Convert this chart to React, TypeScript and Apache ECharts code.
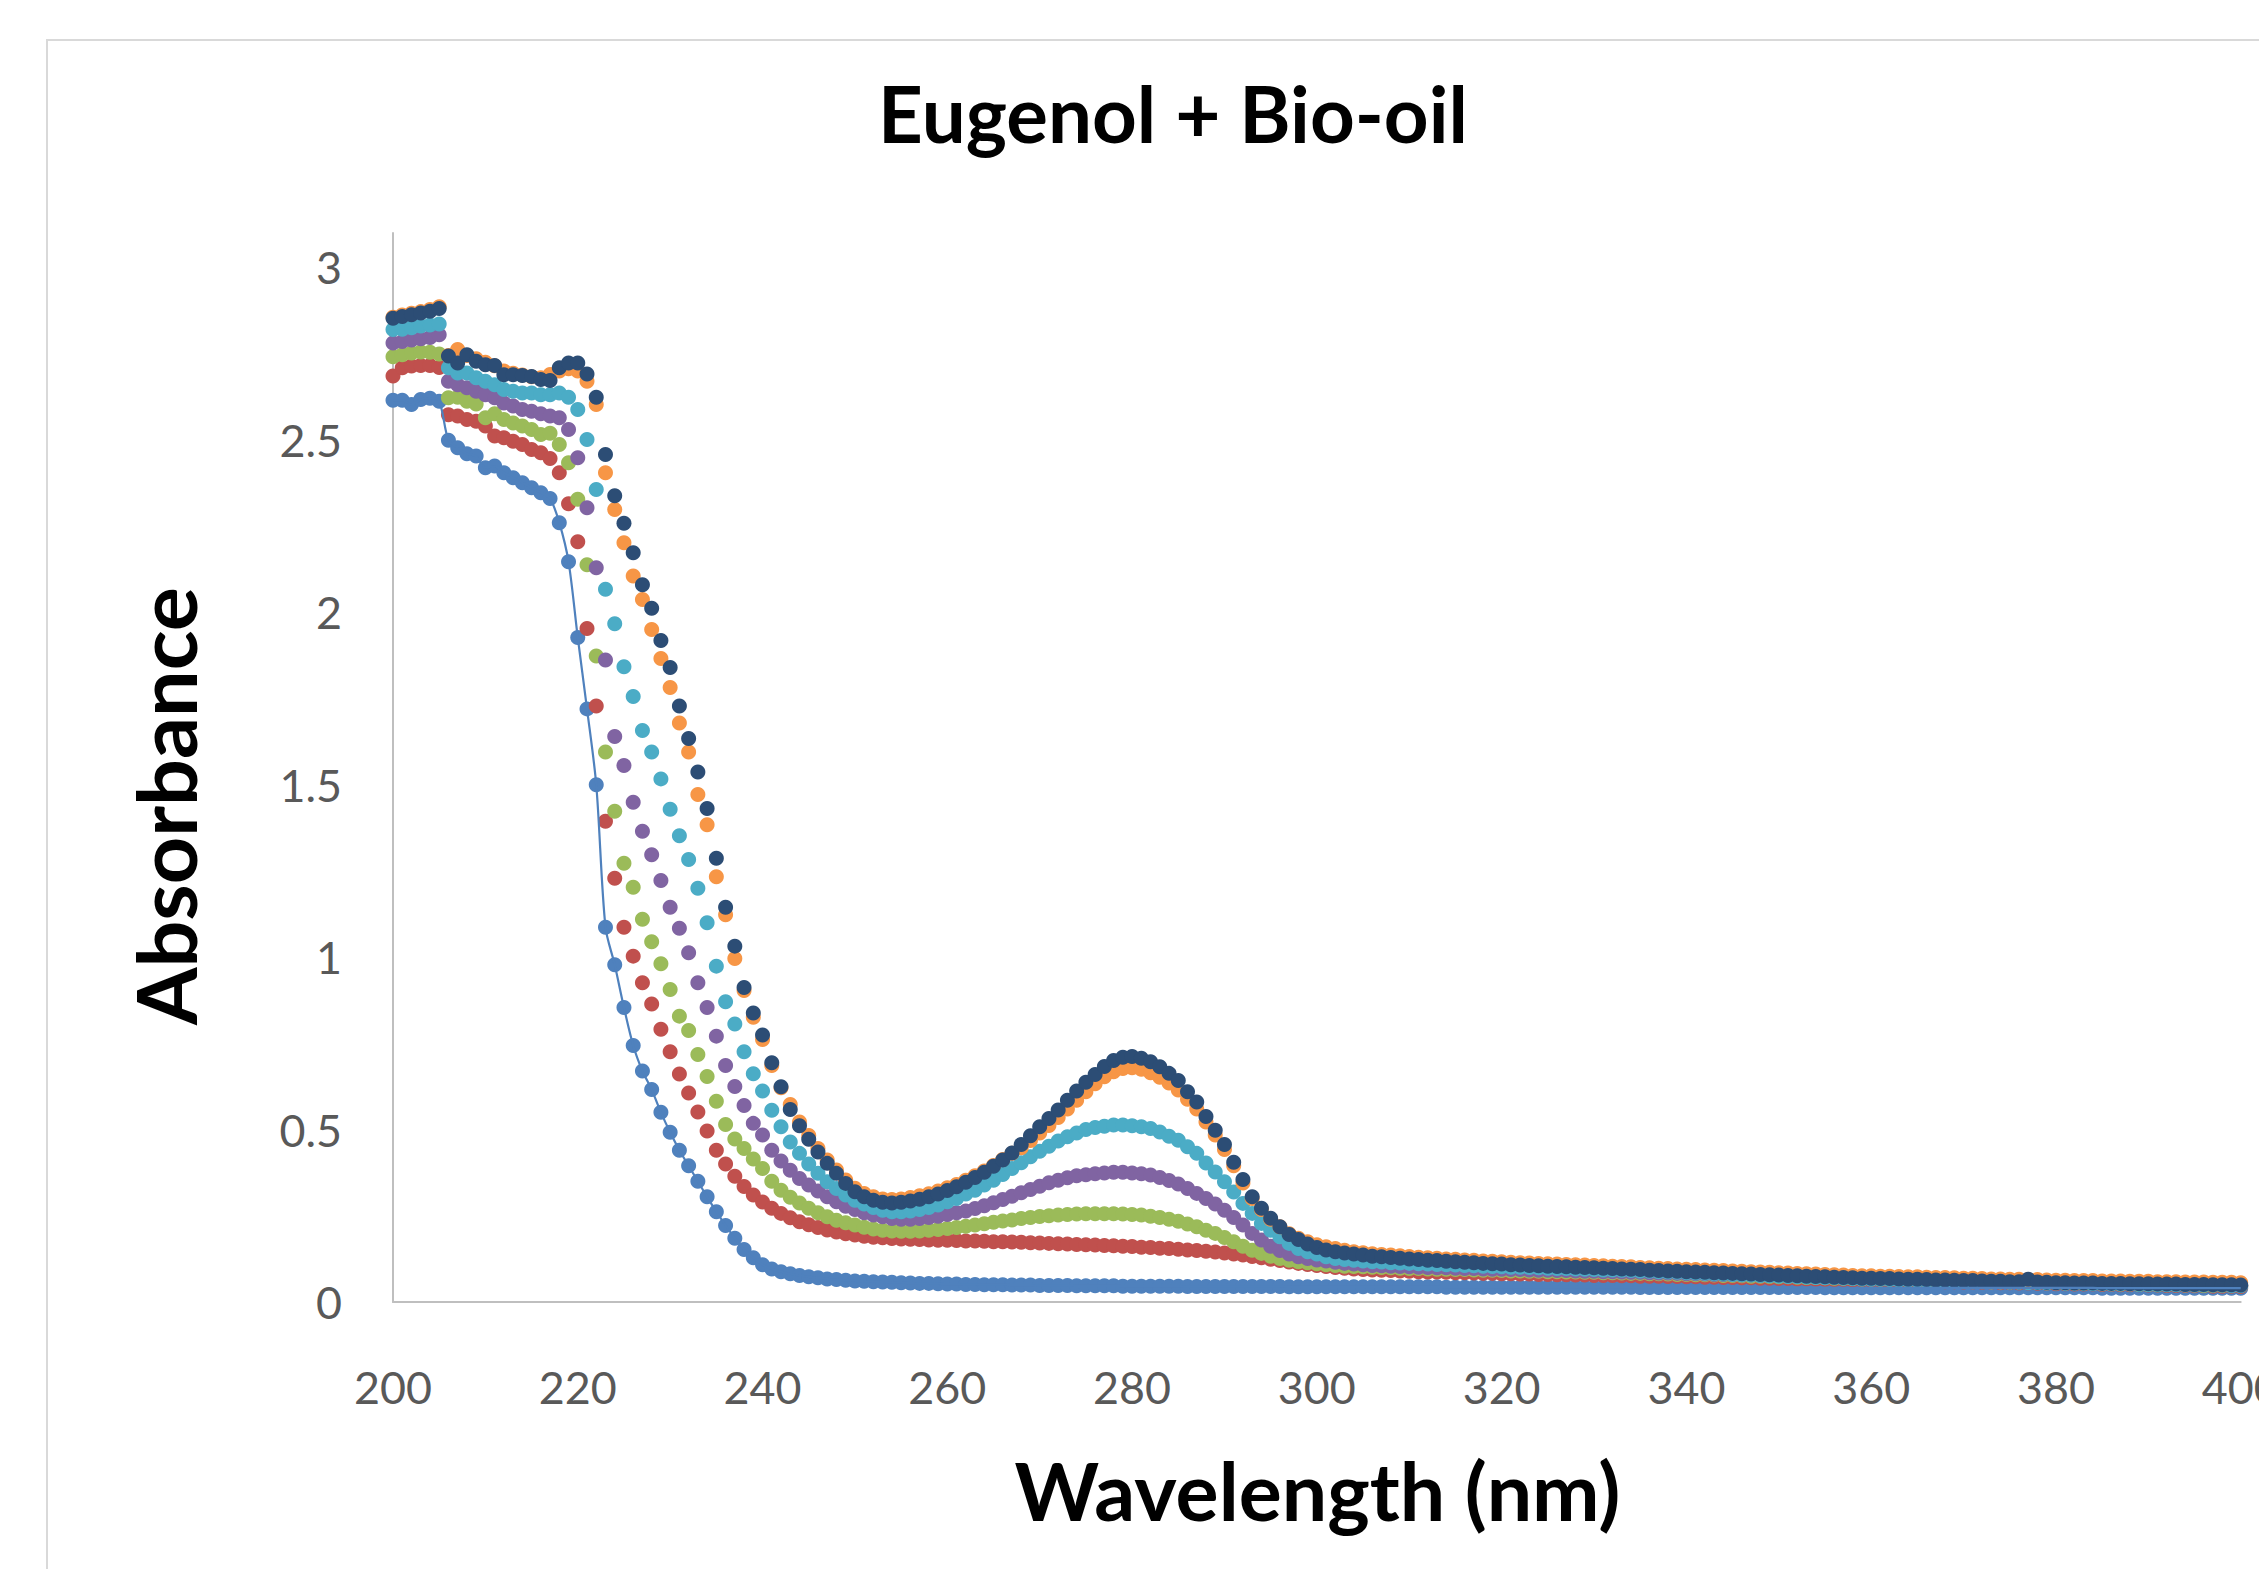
import React, { useEffect, useRef } from "react";
import * as echarts from "echarts";

// Wavelength axis: 200 .. 400 nm, one reading per nm
const WL_START = 200;
const WL_STEP = 1;

const X_TICKS = [200, 220, 240, 260, 280, 300, 320, 340, 360, 380, 400];
const Y_TICKS = [0, 0.5, 1, 1.5, 2, 2.5, 3];

const SERIES_NAMES = ["Series1", "Series2", "Series3", "Series4", "Series5", "Series6", "Series7"];

// Absorbance readings, 200 nm .. 400 nm (10 values per row)
const BLUE = [
  2.615, 2.615, 2.603, 2.617, 2.621, 2.612, 2.499, 2.477, 2.460, 2.453,
  2.419, 2.424, 2.405, 2.390, 2.376, 2.361, 2.347, 2.330, 2.260, 2.147,
  1.927, 1.720, 1.500, 1.087, 0.978, 0.854, 0.744, 0.670, 0.616, 0.550,
  0.492, 0.440, 0.395, 0.350, 0.305, 0.262, 0.222, 0.185, 0.152, 0.128,
  0.108, 0.096, 0.088, 0.082, 0.077, 0.073, 0.070, 0.067, 0.065, 0.063,
  0.061, 0.060, 0.059, 0.058, 0.057, 0.056, 0.055, 0.054, 0.054, 0.053,
  0.052, 0.052, 0.051, 0.051, 0.050, 0.050, 0.050, 0.049, 0.049, 0.049,
  0.048, 0.048, 0.048, 0.048, 0.047, 0.047, 0.047, 0.047, 0.047, 0.046,
  0.046, 0.046, 0.046, 0.046, 0.046, 0.046, 0.045, 0.045, 0.045, 0.045,
  0.045, 0.045, 0.045, 0.045, 0.045, 0.045, 0.045, 0.044, 0.044, 0.044,
  0.044, 0.044, 0.044, 0.044, 0.044, 0.044, 0.044, 0.044, 0.044, 0.044,
  0.044, 0.044, 0.044, 0.044, 0.043, 0.043, 0.043, 0.043, 0.043, 0.043,
  0.043, 0.043, 0.043, 0.043, 0.043, 0.043, 0.043, 0.043, 0.043, 0.043,
  0.043, 0.043, 0.043, 0.043, 0.043, 0.042, 0.042, 0.042, 0.042, 0.042,
  0.042, 0.042, 0.042, 0.042, 0.042, 0.042, 0.042, 0.042, 0.042, 0.042,
  0.042, 0.042, 0.042, 0.042, 0.042, 0.041, 0.041, 0.041, 0.041, 0.041,
  0.041, 0.041, 0.041, 0.041, 0.041, 0.041, 0.041, 0.041, 0.041, 0.041,
  0.041, 0.041, 0.041, 0.041, 0.041, 0.041, 0.041, 0.041, 0.041, 0.041,
  0.041, 0.041, 0.041, 0.041, 0.041, 0.040, 0.040, 0.040, 0.040, 0.040,
  0.040, 0.040, 0.040, 0.040, 0.040, 0.040, 0.040, 0.040, 0.040, 0.040,
  0.040,
];

const RED = [
  2.685, 2.709, 2.714, 2.716, 2.716, 2.710, 2.573, 2.569, 2.559, 2.554,
  2.540, 2.511, 2.506, 2.496, 2.487, 2.472, 2.463, 2.446, 2.405, 2.315,
  2.205, 1.953, 1.728, 1.394, 1.229, 1.087, 1.003, 0.926, 0.864, 0.791,
  0.726, 0.661, 0.606, 0.551, 0.496, 0.440, 0.400, 0.365, 0.335, 0.310,
  0.290, 0.272, 0.257, 0.244, 0.233, 0.224, 0.216, 0.209, 0.203, 0.198,
  0.194, 0.191, 0.188, 0.186, 0.184, 0.183, 0.182, 0.181, 0.180, 0.179,
  0.179, 0.178, 0.177, 0.177, 0.176, 0.175, 0.175, 0.174, 0.173, 0.172,
  0.171, 0.170, 0.169, 0.168, 0.167, 0.166, 0.165, 0.164, 0.163, 0.162,
  0.161, 0.159, 0.158, 0.156, 0.155, 0.153, 0.151, 0.149, 0.147, 0.145,
  0.142, 0.139, 0.136, 0.132, 0.128, 0.124, 0.120, 0.116, 0.112, 0.109,
  0.106, 0.103, 0.100, 0.098, 0.096, 0.094, 0.093, 0.092, 0.091, 0.090,
  0.089, 0.088, 0.087, 0.087, 0.086, 0.085, 0.085, 0.084, 0.083, 0.083,
  0.082, 0.082, 0.081, 0.081, 0.080, 0.080, 0.079, 0.079, 0.078, 0.078,
  0.077, 0.077, 0.077, 0.076, 0.076, 0.075, 0.075, 0.075, 0.074, 0.074,
  0.073, 0.073, 0.072, 0.072, 0.071, 0.071, 0.070, 0.070, 0.069, 0.069,
  0.068, 0.068, 0.067, 0.067, 0.066, 0.066, 0.065, 0.065, 0.064, 0.064,
  0.063, 0.063, 0.062, 0.062, 0.061, 0.061, 0.060, 0.060, 0.059, 0.059,
  0.058, 0.058, 0.057, 0.057, 0.056, 0.056, 0.055, 0.055, 0.054, 0.054,
  0.053, 0.053, 0.052, 0.052, 0.052, 0.051, 0.051, 0.050, 0.050, 0.050,
  0.049, 0.049, 0.048, 0.048, 0.048, 0.047, 0.047, 0.046, 0.046, 0.046,
  0.045,
];

const GREEN = [
  2.741, 2.747, 2.752, 2.755, 2.754, 2.749, 2.622, 2.624, 2.612, 2.604,
  2.564, 2.576, 2.559, 2.549, 2.540, 2.530, 2.516, 2.519, 2.487, 2.434,
  2.328, 2.138, 1.873, 1.595, 1.423, 1.272, 1.203, 1.110, 1.045, 0.981,
  0.906, 0.829, 0.787, 0.718, 0.654, 0.582, 0.515, 0.473, 0.445, 0.415,
  0.387, 0.350, 0.324, 0.304, 0.287, 0.272, 0.259, 0.247, 0.237, 0.230,
  0.223, 0.217, 0.212, 0.208, 0.206, 0.205, 0.205, 0.206, 0.208, 0.210,
  0.213, 0.216, 0.220, 0.223, 0.227, 0.231, 0.235, 0.238, 0.242, 0.245,
  0.248, 0.250, 0.252, 0.254, 0.255, 0.256, 0.256, 0.256, 0.256, 0.255,
  0.254, 0.252, 0.249, 0.245, 0.240, 0.234, 0.226, 0.218, 0.208, 0.199,
  0.187, 0.175, 0.162, 0.150, 0.141, 0.133, 0.126, 0.121, 0.117, 0.114,
  0.111, 0.108, 0.106, 0.104, 0.103, 0.102, 0.101, 0.100, 0.099, 0.098,
  0.097, 0.097, 0.096, 0.095, 0.095, 0.094, 0.094, 0.093, 0.092, 0.092,
  0.091, 0.090, 0.090, 0.089, 0.089, 0.088, 0.088, 0.087, 0.087, 0.086,
  0.086, 0.085, 0.085, 0.084, 0.083, 0.083, 0.082, 0.082, 0.081, 0.080,
  0.080, 0.079, 0.079, 0.078, 0.077, 0.077, 0.076, 0.075, 0.075, 0.074,
  0.073, 0.073, 0.072, 0.071, 0.071, 0.070, 0.069, 0.069, 0.068, 0.067,
  0.067, 0.066, 0.066, 0.065, 0.064, 0.064, 0.063, 0.063, 0.062, 0.061,
  0.061, 0.060, 0.060, 0.059, 0.059, 0.058, 0.058, 0.057, 0.057, 0.056,
  0.056, 0.055, 0.055, 0.054, 0.054, 0.053, 0.053, 0.052, 0.052, 0.051,
  0.051, 0.050, 0.050, 0.050, 0.049, 0.049, 0.048, 0.048, 0.048, 0.047,
  0.047,
];

const PURPLE = [
  2.781, 2.785, 2.790, 2.793, 2.797, 2.805, 2.670, 2.660, 2.651, 2.641,
  2.631, 2.622, 2.607, 2.598, 2.588, 2.583, 2.576, 2.569, 2.564, 2.530,
  2.448, 2.303, 2.129, 1.862, 1.640, 1.556, 1.449, 1.365, 1.297, 1.222,
  1.145, 1.084, 1.013, 0.926, 0.854, 0.771, 0.686, 0.625, 0.570, 0.518,
  0.484, 0.440, 0.409, 0.382, 0.358, 0.339, 0.322, 0.305, 0.291, 0.278,
  0.268, 0.259, 0.252, 0.247, 0.242, 0.240, 0.240, 0.242, 0.245, 0.249,
  0.254, 0.259, 0.264, 0.271, 0.279, 0.288, 0.297, 0.307, 0.317, 0.326,
  0.336, 0.346, 0.353, 0.360, 0.366, 0.369, 0.372, 0.374, 0.376, 0.376,
  0.374, 0.372, 0.368, 0.361, 0.352, 0.342, 0.329, 0.315, 0.300, 0.284,
  0.266, 0.245, 0.223, 0.199, 0.180, 0.162, 0.149, 0.139, 0.131, 0.126,
  0.122, 0.119, 0.115, 0.112, 0.110, 0.108, 0.106, 0.105, 0.104, 0.103,
  0.102, 0.101, 0.100, 0.099, 0.099, 0.098, 0.097, 0.097, 0.096, 0.095,
  0.095, 0.094, 0.094, 0.093, 0.092, 0.092, 0.091, 0.091, 0.090, 0.089,
  0.089, 0.088, 0.088, 0.087, 0.086, 0.086, 0.085, 0.084, 0.084, 0.083,
  0.082, 0.082, 0.081, 0.080, 0.080, 0.079, 0.078, 0.078, 0.077, 0.076,
  0.076, 0.075, 0.074, 0.074, 0.073, 0.072, 0.072, 0.071, 0.070, 0.070,
  0.069, 0.068, 0.068, 0.067, 0.066, 0.066, 0.065, 0.065, 0.064, 0.063,
  0.063, 0.062, 0.062, 0.061, 0.060, 0.060, 0.059, 0.059, 0.058, 0.058,
  0.057, 0.057, 0.056, 0.056, 0.055, 0.055, 0.054, 0.054, 0.053, 0.053,
  0.052, 0.052, 0.051, 0.051, 0.050, 0.050, 0.050, 0.049, 0.049, 0.048,
  0.048,
];

const CYAN = [
  2.820, 2.821, 2.825, 2.830, 2.833, 2.836, 2.709, 2.694, 2.694, 2.680,
  2.670, 2.660, 2.646, 2.641, 2.636, 2.636, 2.631, 2.631, 2.636, 2.624,
  2.588, 2.501, 2.356, 2.067, 1.967, 1.842, 1.756, 1.657, 1.595, 1.517,
  1.429, 1.352, 1.283, 1.200, 1.100, 0.974, 0.871, 0.806, 0.726, 0.662,
  0.612, 0.556, 0.508, 0.464, 0.431, 0.400, 0.373, 0.349, 0.329, 0.310,
  0.295, 0.284, 0.274, 0.266, 0.262, 0.262, 0.264, 0.268, 0.274, 0.281,
  0.291, 0.300, 0.313, 0.324, 0.339, 0.353, 0.370, 0.387, 0.404, 0.421,
  0.437, 0.452, 0.467, 0.479, 0.490, 0.500, 0.506, 0.510, 0.513, 0.513,
  0.511, 0.508, 0.503, 0.493, 0.481, 0.469, 0.450, 0.431, 0.403, 0.377,
  0.349, 0.319, 0.286, 0.257, 0.228, 0.208, 0.189, 0.170, 0.155, 0.146,
  0.139, 0.131, 0.126, 0.123, 0.121, 0.119, 0.117, 0.116, 0.114, 0.113,
  0.112, 0.111, 0.110, 0.109, 0.108, 0.107, 0.106, 0.105, 0.104, 0.103,
  0.102, 0.101, 0.101, 0.100, 0.099, 0.098, 0.097, 0.097, 0.096, 0.095,
  0.094, 0.093, 0.093, 0.092, 0.091, 0.090, 0.089, 0.088, 0.087, 0.086,
  0.085, 0.084, 0.083, 0.082, 0.081, 0.080, 0.079, 0.078, 0.077, 0.076,
  0.075, 0.074, 0.073, 0.072, 0.071, 0.070, 0.070, 0.069, 0.068, 0.067,
  0.066, 0.066, 0.065, 0.064, 0.064, 0.063, 0.062, 0.062, 0.061, 0.060,
  0.060, 0.059, 0.059, 0.058, 0.058, 0.057, 0.057, 0.056, 0.056, 0.055,
  0.055, 0.054, 0.054, 0.054, 0.053, 0.053, 0.052, 0.052, 0.052, 0.051,
  0.051, 0.051, 0.050, 0.050, 0.050, 0.049, 0.049, 0.049, 0.049, 0.048,
  0.048,
];

const ORANGE = [
  2.856, 2.862, 2.867, 2.872, 2.878, 2.886, 2.745, 2.762, 2.745, 2.735,
  2.725, 2.715, 2.700, 2.693, 2.688, 2.683, 2.680, 2.690, 2.700, 2.706,
  2.700, 2.670, 2.603, 2.405, 2.298, 2.202, 2.105, 2.037, 1.950, 1.866,
  1.782, 1.679, 1.595, 1.472, 1.384, 1.233, 1.123, 0.996, 0.903, 0.826,
  0.761, 0.686, 0.621, 0.573, 0.522, 0.483, 0.445, 0.412, 0.383, 0.354,
  0.330, 0.315, 0.305, 0.299, 0.297, 0.299, 0.303, 0.308, 0.314, 0.322,
  0.331, 0.341, 0.353, 0.366, 0.380, 0.396, 0.413, 0.431, 0.447, 0.468,
  0.490, 0.512, 0.535, 0.560, 0.585, 0.610, 0.633, 0.653, 0.668, 0.677,
  0.679, 0.675, 0.665, 0.652, 0.635, 0.615, 0.588, 0.560, 0.522, 0.484,
  0.442, 0.395, 0.345, 0.300, 0.268, 0.240, 0.218, 0.198, 0.185, 0.175,
  0.166, 0.160, 0.155, 0.150, 0.146, 0.143, 0.140, 0.138, 0.136, 0.134,
  0.132, 0.130, 0.128, 0.127, 0.125, 0.124, 0.122, 0.121, 0.119, 0.118,
  0.117, 0.115, 0.114, 0.113, 0.112, 0.111, 0.110, 0.109, 0.108, 0.107,
  0.106, 0.105, 0.104, 0.103, 0.102, 0.100, 0.099, 0.098, 0.097, 0.096,
  0.095, 0.094, 0.093, 0.092, 0.091, 0.090, 0.089, 0.088, 0.087, 0.086,
  0.085, 0.084, 0.083, 0.082, 0.081, 0.080, 0.079, 0.078, 0.077, 0.076,
  0.076, 0.075, 0.075, 0.074, 0.073, 0.073, 0.072, 0.071, 0.071, 0.070,
  0.069, 0.069, 0.068, 0.067, 0.067, 0.066, 0.066, 0.065, 0.065, 0.064,
  0.063, 0.063, 0.062, 0.062, 0.062, 0.061, 0.061, 0.061, 0.060, 0.060,
  0.060, 0.059, 0.059, 0.059, 0.058, 0.058, 0.058, 0.057, 0.057, 0.057,
  0.056,
];

const NAVY = [
  2.853, 2.858, 2.863, 2.868, 2.873, 2.881, 2.743, 2.723, 2.747, 2.728,
  2.718, 2.716, 2.689, 2.689, 2.687, 2.684, 2.675, 2.672, 2.709, 2.723,
  2.723, 2.691, 2.624, 2.458, 2.338, 2.258, 2.173, 2.080, 2.012, 1.918,
  1.840, 1.728, 1.634, 1.537, 1.431, 1.287, 1.145, 1.032, 0.912, 0.838,
  0.774, 0.694, 0.624, 0.558, 0.511, 0.472, 0.435, 0.402, 0.373, 0.344,
  0.320, 0.305, 0.295, 0.289, 0.287, 0.289, 0.293, 0.298, 0.305, 0.313,
  0.323, 0.334, 0.347, 0.361, 0.376, 0.394, 0.412, 0.432, 0.457, 0.482,
  0.508, 0.532, 0.557, 0.585, 0.612, 0.637, 0.660, 0.683, 0.700, 0.710,
  0.712, 0.707, 0.697, 0.682, 0.663, 0.642, 0.610, 0.580, 0.538, 0.498,
  0.457, 0.405, 0.355, 0.305, 0.272, 0.243, 0.218, 0.196, 0.181, 0.168,
  0.158, 0.151, 0.146, 0.142, 0.139, 0.136, 0.133, 0.131, 0.129, 0.127,
  0.125, 0.123, 0.121, 0.120, 0.118, 0.117, 0.115, 0.114, 0.112, 0.111,
  0.110, 0.108, 0.107, 0.106, 0.105, 0.104, 0.103, 0.102, 0.101, 0.100,
  0.099, 0.098, 0.097, 0.096, 0.095, 0.094, 0.092, 0.091, 0.090, 0.089,
  0.088, 0.087, 0.086, 0.085, 0.084, 0.083, 0.082, 0.081, 0.080, 0.079,
  0.078, 0.077, 0.076, 0.075, 0.074, 0.073, 0.072, 0.071, 0.070, 0.069,
  0.069, 0.068, 0.068, 0.067, 0.066, 0.066, 0.065, 0.064, 0.064, 0.063,
  0.062, 0.062, 0.061, 0.060, 0.060, 0.059, 0.059, 0.066, 0.058, 0.057,
  0.056, 0.056, 0.055, 0.055, 0.055, 0.054, 0.054, 0.054, 0.053, 0.053,
  0.053, 0.052, 0.052, 0.052, 0.051, 0.051, 0.051, 0.050, 0.050, 0.050,
  0.049,
];

const SERIES_VALUES = [BLUE, RED, GREEN, PURPLE, CYAN, ORANGE, NAVY];
const COLORS = ["#4F81BD", "#C0504D", "#9BBB59", "#8064A2", "#4BACC6", "#F79646", "#2C4D75"];

const WAVELENGTHS = BLUE.map((_, i) => WL_START + i * WL_STEP);

const FONT = "Lato";

function fitSize(text: string, weight: string, target: number): number {
  const ctx = document.createElement("canvas").getContext("2d");
  if (!ctx) return 40;
  ctx.font = `${weight} 100px ${FONT}`;
  const w = ctx.measureText(text).width;
  return w > 0 ? (100 * target) / w : 40;
}

export default function App() {
  const ref = useRef<HTMLDivElement>(null);

  useEffect(() => {
    if (!ref.current) return;
    const chart = echarts.init(ref.current, undefined, { renderer: "svg" });

    const titleSize = fitSize("Eugenol + Bio-oil", "bold", 590);
    const xNameSize = fitSize("Wavelength (nm)", "bold", 606);
    const yNameSize = fitSize("Absorbance", "bold", 438);
    const tickSize = fitSize("200", "normal", 78);

    const plotLeft = 393;
    const plotTop = 233;
    const plotRight = 2240.7;
    const plotBottom = 1302;

    const scatterSeries = SERIES_VALUES.map((vals, i) => ({
      name: SERIES_NAMES[i],
      type: "scatter",
      data: vals.map((v, j) => [WAVELENGTHS[j], v]),
      symbol: "circle",
      symbolSize: 15,
      itemStyle: { color: COLORS[i], opacity: 1 },
      z: 2,
      silent: true,
    }));

    const blueLine = {
      name: SERIES_NAMES[0],
      type: "line",
      data: BLUE.map((v, j) => [WAVELENGTHS[j], v]),
      smooth: 0.3,
      showSymbol: false,
      symbol: "none",
      lineStyle: { color: COLORS[0], width: 2.2 },
      z: 3,
      silent: true,
    };

    chart.setOption({
      animation: false,
      backgroundColor: "#FFFFFF",
      grid: {
        left: plotLeft,
        top: plotTop,
        width: plotRight - plotLeft,
        height: plotBottom - plotTop,
        containLabel: false,
        outerBoundsMode: "none",
      },
      xAxis: {
        type: "value",
        min: X_TICKS[0],
        max: X_TICKS[X_TICKS.length - 1],
        interval: X_TICKS[1] - X_TICKS[0],
        axisLine: { show: true, onZero: false, lineStyle: { color: "#BFBFBF", width: 2 } },
        axisTick: { show: false },
        splitLine: { show: false },
        axisLabel: {
          color: "#595959",
          fontFamily: FONT,
          fontSize: tickSize,
          lineHeight: tickSize,
          margin: 1386.5 - plotBottom - tickSize / 2,
        },
      },
      yAxis: {
        type: "value",
        min: Y_TICKS[0],
        max: 3.1,
        interval: Y_TICKS[1] - Y_TICKS[0],
        axisLine: { show: true, onZero: false, lineStyle: { color: "#BFBFBF", width: 2 } },
        axisTick: { show: false },
        splitLine: { show: false },
        axisLabel: {
          color: "#595959",
          fontFamily: FONT,
          fontSize: tickSize,
          margin: plotLeft - 342,
          showMaxLabel: false,
          formatter: (v: number) =>
            Y_TICKS.some((t) => Math.abs(t - v) < 1e-9) ? String(v) : "",
        },
      },
      graphic: [
        {
          type: "rect",
          silent: true,
          z: -10,
          shape: { x: 47, y: 40, width: 2600, height: 1800 },
          style: { fill: "none", stroke: "#D9D9D9", lineWidth: 2 },
        },
        {
          type: "text",
          x: 1173,
          y: 115 - 0.03 * titleSize,
          style: {
            text: "Eugenol + Bio-oil",
            fontFamily: FONT,
            fontWeight: "bold",
            fontSize: titleSize,
            fill: "#000000",
            align: "center",
            verticalAlign: "middle",
          },
        },
        {
          type: "text",
          x: 1317.5,
          y: 1492 - 0.03 * xNameSize,
          style: {
            text: "Wavelength (nm)",
            fontFamily: FONT,
            fontWeight: "bold",
            fontSize: xNameSize,
            fill: "#000000",
            align: "center",
            verticalAlign: "middle",
          },
        },
        {
          type: "text",
          x: 167.5 - 0.03 * yNameSize,
          y: 806,
          rotation: Math.PI / 2,
          style: {
            text: "Absorbance",
            fontFamily: FONT,
            fontWeight: "bold",
            fontSize: yNameSize,
            fill: "#000000",
            align: "center",
            verticalAlign: "middle",
          },
        },
      ],
      series: [...scatterSeries, blueLine],
    });

    return () => chart.dispose();
  }, []);

  return (
    <div
      ref={ref}
      style={{ position: "absolute", left: 0, top: 0, width: 2259, height: 1569, background: "#FFFFFF" }}
    />
  );
}
